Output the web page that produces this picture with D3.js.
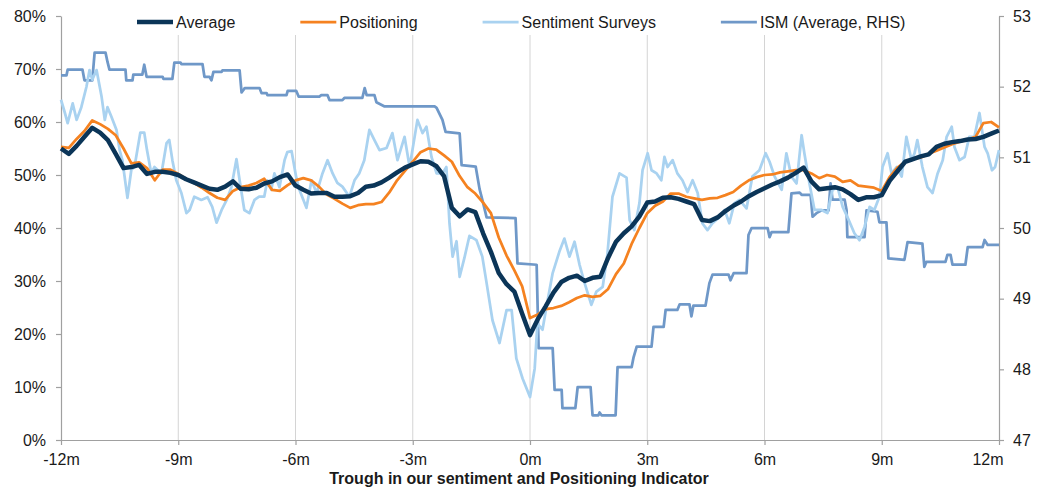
<!DOCTYPE html>
<html>
<head>
<meta charset="utf-8">
<script src="https://cdn.jsdelivr.net/npm/d3@7"></script>
<style>
  html, body { margin: 0; padding: 0; background: #ffffff; }
  svg { display: block; font-family: "Liberation Sans", Arial, sans-serif; }
</style>
</head>
<body>
<svg id="chart" width="1045" height="492"></svg>
<script>
// ---- Data: months relative to the trough in the indicator ----
const months = d3.range(121).map(i => +(-12 + i * 0.2).toFixed(1));

// Average of positioning and sentiment (%), one value per 0.2 month
const average = [
  55.0, 54.0, 55.5, 57.2, 58.9, 58.0, 56.6, 54.0, 51.3, 51.5,
  51.9, 50.2, 50.6, 50.6, 50.4, 50.0, 49.2, 48.6, 48.0, 47.4,
  47.2, 47.8, 48.8, 47.4, 47.3, 47.6, 48.4, 48.8, 49.6, 50.1,
  48.0, 47.2, 46.5, 46.6, 46.6, 45.9, 45.9, 46.0, 46.6, 47.8,
  48.0, 48.6, 49.5, 50.5, 51.4, 52.0, 52.6, 52.5, 51.7, 49.8,
  43.8, 42.2, 43.5, 43.0, 39.0, 35.5, 31.5, 29.4, 28.0, 23.8,
  19.8, 22.8, 25.2, 27.8, 29.8, 30.6, 31.0, 30.0, 30.6, 30.8,
  34.4, 37.4, 39.0, 40.3, 42.2, 44.8, 45.0, 45.7, 45.8, 45.5,
  45.0, 44.5, 41.5, 41.3, 42.0, 43.2, 44.2, 45.0, 46.0, 46.8,
  47.5, 48.2, 48.8, 49.5, 50.4, 51.4, 48.8, 47.3, 47.5, 47.7,
  47.3, 46.4, 45.3, 45.8, 45.8, 46.2, 48.9, 50.7, 52.5, 53.0,
  53.5, 53.9, 55.3, 55.9, 56.2, 56.4, 56.7, 56.8, 57.2, 57.8,
  58.4
];

// Positioning (%), one value per 0.2 month
const positioning = [
  55.3, 55.1, 56.8, 58.3, 60.3, 59.6, 58.7, 57.5, 55.0, 52.2,
  52.4, 51.3, 49.0, 51.0, 51.0, 50.2, 49.3, 48.5, 47.6, 46.6,
  45.7, 45.3, 47.0, 47.7, 48.0, 48.5, 49.3, 47.2, 47.0, 48.1,
  49.0, 49.4, 49.0, 47.8, 46.3, 45.5, 44.6, 43.8, 44.3, 44.5,
  44.5, 44.9, 46.7, 49.0, 50.8, 52.5, 54.3, 55.0, 54.8, 53.7,
  52.5, 49.8, 47.7, 46.5, 44.8, 42.8, 38.2, 34.8, 32.0, 29.0,
  23.0, 23.7, 24.7, 24.9, 25.3, 26.0, 26.8, 27.3, 27.0, 27.2,
  28.5, 31.3, 33.3, 37.0, 40.0, 42.8, 44.2, 45.0, 46.5, 46.5,
  45.9, 45.6, 45.3, 45.6, 45.7, 46.2, 46.8, 48.0, 49.0, 49.6,
  50.0, 50.1, 50.5, 50.7, 50.9, 50.9, 50.3, 49.4, 50.0, 49.7,
  48.7, 49.0, 48.0, 47.8, 47.6, 47.0, 49.6, 51.4, 52.5, 53.0,
  53.3, 54.0, 54.6, 55.2, 55.8, 56.3, 56.7, 57.2, 59.8, 60.0,
  59.0
];

// Sentiment surveys (%), [month, value] turning points
const sentimentSurveys = [
  [-12, 64.2], [-11.9, 61.7], [-11.83, 59.8], [-11.7, 63.5], [-11.6, 60.4],
  [-11.48, 62.8], [-11.35, 66.6], [-11.27, 69.8], [-11.2, 68.0], [-11.09, 69.8],
  [-10.96, 64.7], [-10.88, 60.4], [-10.81, 62.8], [-10.71, 61.0], [-10.58, 58.5],
  [-10.5, 54.7], [-10.43, 52.8], [-10.3, 45.7], [-10.2, 51.0], [-10.12, 51.5],
  [-9.97, 58.0], [-9.87, 58.0], [-9.8, 54.7], [-9.69, 50.3], [-9.61, 51.5],
  [-9.43, 50.3], [-9.3, 56.0], [-9.23, 56.6], [-9.15, 52.8], [-9.05, 49.0],
  [-8.92, 46.6], [-8.79, 42.8], [-8.71, 43.4], [-8.59, 45.9], [-8.41, 45.3],
  [-8.25, 45.8], [-8.13, 44.0], [-8.02, 41.0], [-7.89, 43.4], [-7.76, 45.3],
  [-7.64, 47.7], [-7.51, 53.0], [-7.43, 49.0], [-7.31, 43.4], [-7.18, 42.8],
  [-7.05, 45.3], [-6.93, 45.9], [-6.8, 45.9], [-6.72, 49.0], [-6.62, 47.2],
  [-6.54, 50.3], [-6.41, 47.7], [-6.28, 52.8], [-6.21, 54.3], [-6.1, 54.5],
  [-5.98, 49.5], [-5.9, 47.2], [-5.72, 43.8], [-5.59, 49.0], [-5.46, 46.6],
  [-5.31, 50.3], [-5.18, 52.8], [-5.05, 50.3], [-4.93, 48.5], [-4.8, 47.8],
  [-4.62, 45.9], [-4.49, 49.0], [-4.37, 50.3], [-4.24, 52.8], [-4.11, 58.5],
  [-3.98, 56.6], [-3.85, 54.7], [-3.67, 55.1], [-3.52, 57.9], [-3.39, 52.8],
  [-3.21, 57.2], [-3.08, 51.5], [-2.88, 60.4], [-2.75, 57.9], [-2.65, 59.1],
  [-2.52, 53.4], [-2.39, 50.3], [-2.24, 50.3], [-2.14, 51.5], [-2.06, 40.9],
  [-1.98, 34.6], [-1.88, 37.5], [-1.8, 30.8], [-1.68, 34.3], [-1.55, 38.5],
  [-1.37, 37.7], [-1.22, 34.6], [-1.11, 29.6], [-0.96, 22.6], [-0.78, 18.3],
  [-0.6, 24.5], [-0.47, 24.5], [-0.35, 15.4], [-0.19, 11.6], [0, 8.1],
  [0.12, 13.5], [0.19, 22.0], [0.32, 20.8], [0.42, 25.1], [0.58, 31.5],
  [0.75, 35.5], [0.88, 38.0], [1.01, 34.6], [1.14, 37.4], [1.27, 33.0],
  [1.39, 29.8], [1.57, 25.5], [1.7, 28.0], [1.86, 28.9], [1.98, 35.0],
  [2.11, 45.9], [2.29, 50.3], [2.47, 49.5], [2.55, 41.5], [2.67, 39.6],
  [2.8, 44.7], [2.88, 50.9], [3.01, 54.1], [3.11, 50.9], [3.24, 50.3],
  [3.36, 49.0], [3.44, 53.4], [3.52, 51.5], [3.65, 52.8], [3.77, 50.3],
  [3.9, 49.0], [4.03, 46.8], [4.16, 49.0], [4.29, 46.6], [4.41, 40.9],
  [4.54, 39.6], [4.67, 40.9], [4.85, 42.1], [4.98, 43.4], [5.1, 40.9],
  [5.23, 44.7], [5.36, 45.3], [5.54, 43.7], [5.69, 49.7], [5.87, 50.9],
  [6.03, 54.1], [6.13, 52.5], [6.26, 49.7], [6.44, 47.2], [6.56, 54.1],
  [6.69, 49.7], [6.82, 48.4], [6.95, 57.5], [7.02, 54.1], [7.15, 48.4],
  [7.28, 43.4], [7.46, 43.4], [7.61, 42.8], [7.74, 47.2], [7.87, 47.7],
  [8.0, 44.0], [8.12, 42.1], [8.3, 39.0], [8.43, 37.7], [8.56, 40.2],
  [8.69, 44.0], [8.81, 43.4], [8.94, 45.9], [9.02, 51.5], [9.15, 54.1],
  [9.25, 50.3], [9.38, 51.5], [9.51, 49.7], [9.63, 57.2], [9.76, 52.8],
  [9.84, 54.1], [9.91, 56.6], [10.04, 51.5], [10.17, 47.7], [10.3, 46.6],
  [10.43, 50.3], [10.56, 52.8], [10.66, 57.2], [10.79, 59.1], [10.86, 55.3],
  [10.99, 52.8], [11.12, 53.4], [11.24, 57.2], [11.37, 57.2], [11.5, 61.7],
  [11.63, 55.3], [11.71, 54.1], [11.82, 50.9], [11.9, 51.5], [12, 54.7]
];

// ISM manufacturing, average (right-hand scale), [month, value] step points
const ismAverage = [
  [-12, 52.16], [-11.86, 52.16], [-11.83, 52.24], [-11.45, 52.24], [-11.4, 52.09],
  [-11.2, 52.09], [-11.14, 52.48], [-10.86, 52.48], [-10.81, 52.35], [-10.76, 52.24],
  [-10.35, 52.24], [-10.33, 52.09], [-10.17, 52.09], [-10.15, 52.17], [-9.92, 52.17],
  [-9.87, 52.31], [-9.81, 52.14], [-9.4, 52.14], [-9.38, 52.11], [-9.15, 52.11],
  [-9.1, 52.34], [-8.94, 52.34], [-8.92, 52.32], [-8.38, 52.32], [-8.33, 52.14],
  [-8.2, 52.14], [-8.15, 52.09], [-8.1, 52.21], [-7.89, 52.21], [-7.87, 52.23],
  [-7.43, 52.23], [-7.38, 51.92], [-7.3, 51.98], [-6.92, 51.98], [-6.87, 51.91],
  [-6.74, 51.91], [-6.72, 51.88], [-6.23, 51.88], [-6.2, 51.94], [-5.98, 51.94],
  [-5.92, 51.86], [-5.39, 51.86], [-5.34, 51.88], [-5.18, 51.88], [-5.13, 51.81],
  [-4.8, 51.81], [-4.75, 51.84], [-4.29, 51.84], [-4.23, 51.98], [-4.18, 51.88],
  [-3.98, 51.88], [-3.93, 51.78], [-3.72, 51.72], [-2.44, 51.72], [-2.39, 51.7],
  [-2.24, 51.53], [-2.16, 51.36], [-1.8, 51.34], [-1.75, 50.89], [-1.39, 50.87],
  [-1.29, 50.55], [-1.22, 50.4], [-1.11, 50.15], [-0.37, 50.14], [-0.32, 49.5],
  [0.17, 49.48], [0.22, 48.3], [0.58, 48.3], [0.63, 47.71], [0.81, 47.71],
  [0.83, 47.45], [1.16, 47.45], [1.22, 47.75], [1.55, 47.75], [1.6, 47.35],
  [1.75, 47.35], [1.78, 47.39], [1.83, 47.35], [2.19, 47.35], [2.24, 48.03],
  [2.6, 48.03], [2.65, 48.17], [2.73, 48.32], [3.11, 48.32], [3.16, 48.6],
  [3.42, 48.6], [3.47, 48.84], [3.77, 48.84], [3.83, 48.92], [4.08, 48.92],
  [4.13, 48.75], [4.18, 48.9], [4.49, 48.9], [4.59, 49.22], [4.67, 49.34],
  [5.08, 49.34], [5.13, 49.26], [5.21, 49.36], [5.54, 49.36], [5.59, 49.9],
  [5.67, 50.0], [6.08, 50.0], [6.13, 49.87], [6.18, 49.94], [6.61, 49.94],
  [6.69, 50.49], [6.9, 50.5], [6.95, 50.47], [7.18, 50.47], [7.23, 50.16],
  [7.33, 50.21], [7.46, 50.25], [7.64, 50.25], [7.69, 50.63], [7.74, 50.4],
  [8.05, 50.4], [8.1, 50.25], [8.12, 49.87], [8.56, 49.87], [8.61, 50.25],
  [8.89, 50.23], [8.94, 50.08], [9.12, 50.08], [9.17, 49.57], [9.58, 49.55],
  [9.66, 49.8], [10.04, 49.78], [10.09, 49.45], [10.14, 49.52], [10.63, 49.52],
  [10.68, 49.62], [10.76, 49.62], [10.81, 49.48], [11.14, 49.48], [11.2, 49.73],
  [11.58, 49.73], [11.63, 49.83], [11.71, 49.76], [12, 49.76]
];

// Axis ticks
const monthTicks = [-12, -9, -6, -3, 0, 3, 6, 9, 12];
const pctTicks = [0, 10, 20, 30, 40, 50, 60, 70, 80];
const ismTicks = [47, 48, 49, 50, 51, 52, 53];

// Series names and colours
const seriesNames = ["Average", "Positioning", "Sentiment Surveys", "ISM (Average, RHS)"];
const seriesColors = ["#0b3558", "#f58220", "#a9d2f0", "#6f98c8"];
const seriesWidths = [4.5, 2.75, 2.75, 2.75];

// ---- Layout ----
const svg = d3.select("#chart");
const plot = { left: 61, right: 999, top: 16, bottom: 440 };
const axisColor = "#a0a0a0";
const textColor = "#1a1a1a";
const fontSize = 16;

const x = d3.scaleLinear().domain([-12, 12]).range([plot.left, plot.right]);
const yLeft = d3.scaleLinear().domain([0, 80]).range([plot.bottom, plot.top]);
const yRight = d3.scaleLinear().domain([47, 53]).range([plot.bottom, plot.top]);

// Vertical gridlines at each quarter
svg.append("g")
  .selectAll("line")
  .data(monthTicks.slice(1, -1))
  .join("line")
  .attr("x1", d => x(d)).attr("x2", d => x(d))
  .attr("y1", plot.top).attr("y2", plot.bottom)
  .attr("stroke", "#d4d4d4").attr("stroke-width", 1);

// Legend sits on a white band across the top of the plot
const legendBand = svg.append("rect")
  .attr("fill", "#ffffff")
  .attr("y", plot.top - 6).attr("height", 25);

// Axes
function styleAxis(g) {
  g.attr("font-family", null).attr("font-size", null);
  g.select(".domain").attr("stroke", axisColor).attr("stroke-width", 1.2);
  g.selectAll(".tick line").attr("stroke", axisColor).attr("stroke-width", 1.2);
  g.selectAll(".tick text").attr("fill", textColor).style("font-size", fontSize + "px");
}

const xAxis = svg.append("g")
  .attr("transform", `translate(0,${plot.bottom})`)
  .call(d3.axisBottom(x).tickValues(monthTicks).tickFormat(d => d + "m")
    .tickSize(5).tickSizeOuter(0).tickPadding(9))
  .call(styleAxis);
// Keep the last label inside the frame
xAxis.selectAll(".tick text").filter(d => d === 12)
  .attr("text-anchor", "end").attr("dx", 4);

svg.append("g")
  .attr("transform", `translate(${plot.left},0)`)
  .call(d3.axisLeft(yLeft).tickValues(pctTicks).tickFormat(d => d + "%")
    .tickSize(5).tickSizeOuter(0).tickPadding(10))
  .call(styleAxis);

svg.append("g")
  .attr("transform", `translate(${plot.right},0)`)
  .call(d3.axisRight(yRight).tickValues(ismTicks).tickFormat(d3.format("d"))
    .tickSize(5).tickSizeOuter(0).tickPadding(9))
  .call(styleAxis);

// ---- Lines ----
const linePct = d3.line().x(d => x(d[0])).y(d => yLeft(d[1]));
const lineIsm = d3.line().x(d => x(d[0])).y(d => yRight(d[1]));

const seriesPaths = [
  { i: 3, d: lineIsm(ismAverage) },
  { i: 2, d: linePct(sentimentSurveys) },
  { i: 1, d: linePct(months.map((m, k) => [m, positioning[k]])) },
  { i: 0, d: linePct(months.map((m, k) => [m, average[k]])) }
];

svg.append("g")
  .selectAll("path")
  .data(seriesPaths)
  .join("path")
  .attr("d", s => s.d)
  .attr("fill", "none")
  .attr("stroke", s => seriesColors[s.i])
  .attr("stroke-width", s => seriesWidths[s.i])
  .attr("stroke-linejoin", "round")
  .attr("stroke-linecap", "butt");

// ---- Legend ----
const legend = svg.append("g").attr("transform", `translate(0,${plot.top + 6})`);
const swatch = 36, swatchGap = 3, itemGap = 65;
let lx = 137;
seriesNames.forEach((name, i) => {
  const item = legend.append("g").attr("transform", `translate(${lx},0)`);
  item.append("line")
    .attr("x1", 0).attr("x2", swatch).attr("y1", 0).attr("y2", 0)
    .attr("stroke", seriesColors[i]).attr("stroke-width", seriesWidths[i]);
  const t = item.append("text")
    .attr("x", swatch + swatchGap).attr("y", 0).attr("dy", "0.35em")
    .attr("fill", textColor).style("font-size", fontSize + "px")
    .text(name);
  lx += swatch + swatchGap + t.node().getComputedTextLength() + itemGap;
});
legendBand.attr("x", 130).attr("width", lx - itemGap - 130 + 8);

// ---- Axis title ----
svg.append("text")
  .attr("x", 519).attr("y", 484)
  .attr("text-anchor", "middle")
  .attr("fill", textColor)
  .style("font-size", fontSize + "px").style("font-weight", "bold")
  .text("Trough in our sentiment and Positioning Indicator");
</script>
</body>
</html>
